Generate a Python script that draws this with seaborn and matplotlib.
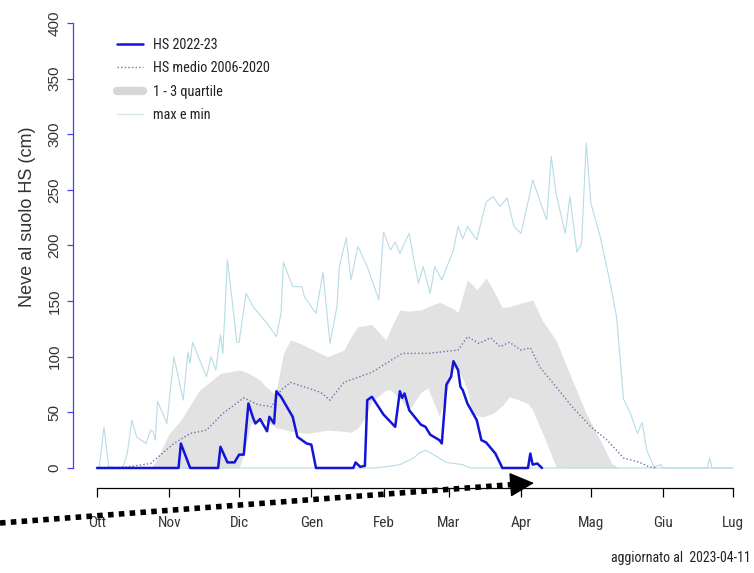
import matplotlib as mpl
mpl.use('Agg')
import matplotlib.pyplot as plt
from matplotlib import font_manager
from matplotlib.lines import Line2D
import seaborn as sns

# x values are days since 1 October 2022, y values are snow depth in cm
MONTH_DAYS = [0, 31, 61, 92, 123, 151, 182, 212, 243, 273]
MONTH_LABELS = ['Ott', 'Nov', 'Dic', 'Gen', 'Feb', 'Mar', 'Apr', 'Mag', 'Giu', 'Lug']
Y_TICKS = [0, 50, 100, 150, 200, 250, 300, 350, 400]

# HS 2022-23
hs_days = [0, 35, 36, 40, 52, 53, 56, 59, 61, 63, 65, 67, 68, 70, 73, 74, 76, 77, 79, 84,
           86, 90, 92, 94, 110, 111, 113, 115, 116, 118, 123, 128, 130, 131, 132, 134, 139,
           141, 143, 147, 148, 150, 152, 153, 155, 156, 157, 159, 163, 165, 167, 171, 174,
           185, 186, 187, 189, 191]
hs_values = [0, 0, 22, 0, 0, 19, 5, 5, 12, 12, 58, 45, 40, 44, 33, 46, 40, 69, 64, 46,
             28, 22, 21, 0, 0, 5, 1, 2, 61, 64, 48, 37, 69, 63, 67, 52, 39,
             37, 30, 25, 22, 75, 82, 96, 88, 73, 70, 58, 43, 25, 23, 13, 0,
             0, 13, 3, 4, 0]

# HS medio 2006-2020
mean_days = [6, 13, 23, 28, 33, 40, 47, 54, 63, 69, 75, 79, 83, 96, 100, 106, 118, 131,
             142, 155, 159, 164, 169, 173, 177, 182, 186, 190, 197, 204, 212, 219, 226,
             233, 237, 240]
mean_values = [0, 1, 4, 13, 22, 31, 34, 49, 63, 57, 55, 70, 77, 68, 61, 77, 86, 103,
               103, 106, 118, 112, 117, 109, 113, 106, 108, 91, 73, 55, 37, 25, 9,
               5, 1, 0]

# 1 - 3 quartile
band_days = [23, 25, 31, 36, 44, 53, 61, 63, 66, 70, 72, 76, 77, 80, 83, 87, 90, 99, 106,
             109, 112, 115, 118, 124, 126, 130, 134, 139, 142, 147, 153, 155, 157, 159,
             161, 163, 166, 167, 170, 174, 177, 180, 185, 187, 190, 191, 197, 204, 210,
             216, 221, 224]
q1_values = [0, 0, 0, 0, 0, 0, 0, 12, 40, 42, 42, 38, 36, 35, 33, 32, 31, 34, 33,
             32, 36, 45, 60, 70, 70, 62, 52, 68, 72, 46, 90, 88, 80, 70,
             49, 47, 46, 47, 49, 56, 64, 62, 58, 52, 37, 33, 1, 0, 0,
             0, 0, 0]
q3_values = [0, 5, 31, 43, 70, 85, 88, 87, 84, 79, 74, 67, 70, 103, 115, 112, 109, 100, 106,
             118, 127, 128, 129, 115, 125, 142, 141, 142, 145, 149, 143, 140, 155, 169,
             165, 160, 168, 171, 160, 144, 145, 147, 150, 151, 138, 133, 115, 79, 49,
             25, 4, 0]

# max e min
max_days = [0, 1, 3, 5, 11, 13, 15, 17, 21, 23, 24, 25, 26, 30, 33, 37, 39, 40, 41, 47,
            49, 51, 53, 54, 56, 58, 60, 61, 64, 67, 73, 77, 79, 80, 84, 88, 89, 94, 97,
            100, 103, 104, 107, 109, 112, 116, 121, 123, 126, 128, 130, 134, 136, 138,
            140, 143, 145, 148, 153, 155, 157, 159, 163, 167, 170, 173, 176, 179, 182,
            185, 187, 190, 193, 195, 197, 201, 203, 206, 208, 210, 212, 216, 220, 223,
            226, 229, 232, 234, 236, 239, 242, 243, 262, 263, 264, 273]
max_values = [0, 1, 37, 1, 0, 13, 43, 28, 22, 34, 33, 25, 60, 40, 100, 61, 104, 94, 113, 82,
              100, 88, 120, 103, 187, 151, 113, 113, 157, 145, 130, 118, 139, 185, 163, 163,
              154, 139, 176, 112, 145, 181, 207, 169, 199, 181, 151, 212, 196, 203, 193,
              211, 187, 166, 181, 157, 181, 169, 196, 217, 206, 217, 205, 239, 244, 235,
              243, 217, 211, 239, 259, 241, 223, 280, 247, 211, 244, 194, 202, 292, 238,
              208, 169, 136, 62, 49, 31, 41, 16, 1, 3, 0, 0, 9, 0, 0]
min_days = [0, 120, 127, 130, 136, 138, 141, 146, 150, 157, 160, 273]
min_values = [0, 0, 2, 3, 9, 13, 16, 10, 5, 3, 0, 0]

HS_BLUE = '#1414d8'
MEAN_COL = '#7070b0'
BAND_COL = '#e2e2e2'
LIGHT = '#b8dce6'


def pick_narrow():
    # a condensed face if there is one, else a smaller regular one
    for fam in ['Liberation Sans Narrow', 'Roboto Condensed', 'Noto Sans Condensed',
                'Open Sans Condensed', 'DejaVu Sans Condensed']:
        try:
            font_manager.findfont(font_manager.FontProperties(family=fam),
                                  fallback_to_default=False)
            return [fam, 'DejaVu Sans'], 10.3
        except ValueError:
            pass
    return ['Liberation Sans', 'DejaVu Sans'], 9.0


NARROW, NARROW_SIZE = pick_narrow()

sns.set_theme(style='white')
plt.rcParams['font.family'] = ['Liberation Sans', 'DejaVu Sans']

fig = plt.figure(figsize=(7.54, 5.73), dpi=100)
ax = fig.add_axes([73 / 754, 85 / 573, 672 / 754, 470 / 573])

ax.fill_between(band_days, q1_values, q3_values, color=BAND_COL, lw=0)
sns.lineplot(x=max_days, y=max_values, ax=ax, color=LIGHT, lw=0.8)
sns.lineplot(x=min_days, y=min_values, ax=ax, color=LIGHT, lw=0.8)
sns.lineplot(x=mean_days, y=mean_values, ax=ax, color=MEAN_COL, lw=1.0,
             linestyle=(0, (1, 1.6)))
sns.lineplot(x=hs_days, y=hs_values, ax=ax, color=HS_BLUE, lw=1.8)

ax.set_xlim(-10.3, 278.15)
ax.set_ylim(-18, 404.5)

# R style detached axes
for side in ['top', 'right']:
    ax.spines[side].set_visible(False)
ax.spines['left'].set_bounds(0, 400)
ax.spines['left'].set_color('#4040f0')
ax.spines['left'].set_linewidth(0.9)
ax.spines['bottom'].set_bounds(0, 273)
ax.spines['bottom'].set_color('black')
ax.spines['bottom'].set_linewidth(0.9)

ax.set_yticks(Y_TICKS)
ax.set_yticklabels([str(v) for v in Y_TICKS], rotation=90, va='center',
                   fontsize=11, color='#333333')
ax.tick_params(axis='y', left=True, length=4.3, width=0.9, color='#4040f0', pad=4)

ax.set_xticks(MONTH_DAYS)
ax.set_xticklabels(MONTH_LABELS, fontsize=11, color='#333333', family=NARROW)
ax.tick_params(axis='x', bottom=True, length=6.5, width=0.9, color='black', pad=13.5)

ax.set_ylabel('Neve al suolo HS (cm)', fontsize=13, color='#333333', va='center')
ax.yaxis.set_label_coords(-0.067, 0.577)
ax.set_xlabel('')
ax.grid(False)

handles = [
    Line2D([], [], color=HS_BLUE, lw=1.8),
    Line2D([], [], color=MEAN_COL, lw=1.0, linestyle=(0, (1, 1.6))),
    Line2D([], [], color='#d6d6d6', lw=6),
    Line2D([], [], color='#d8e6ea', lw=1.0),
]
labels = ['HS 2022-23', 'HS medio 2006-2020', '1 - 3 quartile', 'max e min']
fig.legend(handles, labels, loc='upper left', bbox_to_anchor=(117 / 754, 1 - 38 / 573),
           bbox_transform=fig.transFigure, frameon=False, borderpad=0, borderaxespad=0,
           handlelength=1.8, handletextpad=0.7, labelspacing=0.65,
           prop={'family': NARROW, 'size': NARROW_SIZE}, labelcolor='#222222')

# dotted arrow along the bottom
fig.add_artist(Line2D([0, 516 / 754], [50 / 573, 88.7 / 573], transform=fig.transFigure,
                      color='black', lw=4.0, linestyle=(0, (1.0, 0.95)),
                      dash_capstyle='butt'))
ax.annotate('', xy=(534, 90), xycoords='figure pixels', xytext=(512, 88.4),
            textcoords='figure pixels',
            arrowprops=dict(arrowstyle='-|>,head_length=1.3,head_width=0.65',
                            color='black', lw=1, shrinkA=0, shrinkB=0))

fig.text(611 / 754, 1 - 558 / 573, 'aggiornato al  2023-04-11', ha='left', va='center',
         fontsize=NARROW_SIZE - 0.3, color='#222222', family=NARROW)

fig.savefig('out.png', dpi=100)
